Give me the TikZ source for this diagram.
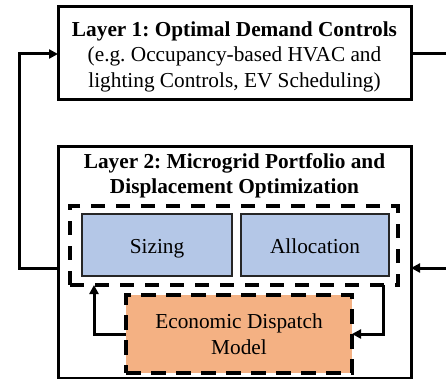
\documentclass[tikz,border=0pt]{standalone}
\usepackage{fontspec}
\setmainfont{Liberation Serif}
\frenchspacing
\usetikzlibrary{arrows.meta,calc}
\definecolor{boxblue}{HTML}{B4C7E7}
\definecolor{boxorange}{HTML}{F4B183}
\begin{document}
\begin{tikzpicture}[x=1pt,y=-1pt,
  txt/.style={font=\fontsize{21.3}{25.5}\selectfont, align=center},
  layerbox/.style={draw=black, line width=3pt, fill=white, inner sep=0pt, outer sep=0pt},
  dashbox/.style={draw=black, line width=3.5pt, dash pattern=on 14pt off 11pt, inner sep=0pt, outer sep=0pt},
  bluebox/.style={draw=black!85, line width=1.2pt, fill=boxblue, inner sep=0pt, outer sep=0pt, txt, text height=16pt, text depth=0pt},
  orangebox/.style={draw=black, line width=3.5pt, dash pattern=on 15pt off 10pt, fill=boxorange, inner sep=0pt, outer sep=0pt, txt},
  conn/.style={draw=black, line width=3pt},
  arr/.style={conn, -{Triangle[length=9pt,width=9pt]}}
]
\useasboundingbox (0,0) rectangle (446,379);

% Layer 1
\node[layerbox, minimum width=353pt, minimum height=93pt] (L1) at (234.5,53.5) {};
\node[txt, inner sep=0pt] (L1t) at (234.5,56.5)
  {\textbf{Layer 1: Optimal Demand Controls}\\(e.g. Occupancy-based HVAC and\\lighting Controls, EV Scheduling)};

% Layer 2
\node[layerbox, minimum width=353pt, minimum height=231pt] (L2) at (234.5,262.5) {};
\node[txt, inner sep=0pt] (L2t) at (234.5,176) {\textbf{Layer 2: Microgrid Portfolio and}\\\textbf{Displacement Optimization}};

\node[dashbox, minimum width=328pt, minimum height=79pt] (dash) at (234,245.5) {};
\node[bluebox, minimum width=150pt, minimum height=62pt] (siz) at (157,245) {Sizing};
\node[bluebox, minimum width=148pt, minimum height=62pt] (alloc) at (315,245) {Allocation};

\node[orangebox, minimum width=226pt, minimum height=78pt] (ED) at (239,334) {Economic Dispatch\\Model};

% inner feedback arrows
\coordinate (lx) at (94,0);
\coordinate (rx) at (383,0);
\draw[arr] (ED.west) -| (dash.south -| lx);
\draw[arr] (dash.south -| rx) |- (ED.east);

% outer loop
\coordinate (ll) at (19,268);
\coordinate (lu) at (19,54);
\draw[arr] (L2.west |- ll) -- (ll) -- (lu) -- (L1.west |- lu);
\coordinate (re1) at (446,54);
\coordinate (re2) at (446,268);
\draw[conn] (L1.east |- re1) -- (re1);
\draw[arr] (re2) -- (L2.east |- re2);
\end{tikzpicture}
\end{document}
